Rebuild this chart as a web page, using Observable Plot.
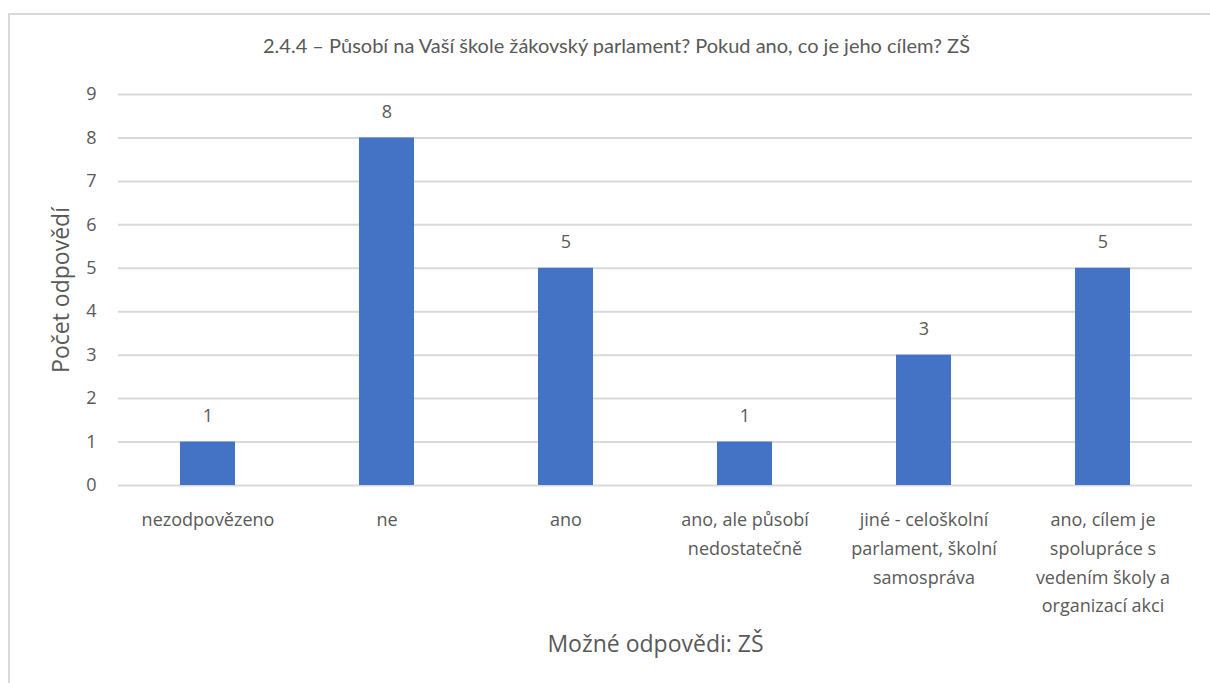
<!DOCTYPE html>
<html><head><meta charset="utf-8">
<script src="https://cdn.jsdelivr.net/npm/d3@7"></script>
<script src="https://cdn.jsdelivr.net/npm/@observablehq/plot@0.6"></script>
<style>
body{margin:0;background:#fff;}
#wrap{position:relative;width:1210px;height:683px;overflow:hidden;}
#frame{position:absolute;left:8px;top:13px;width:1300px;height:800px;border:2px solid #d9d9d9;box-sizing:border-box;}
#chart{position:absolute;left:0;top:0;}
</style></head><body>
<div id="wrap"><div id="frame"></div><div id="chart"></div></div>
<script>
const title = "2.4.4 – Působí na Vaší škole žákovský parlament? Pokud ano, co je jeho cílem? ZŠ";
const categories = ["nezodpovězeno", "ne", "ano", "ano, ale působí nedostatečně", "jiné - celoškolní parlament, školní samospráva", "ano, cílem je spolupráce s vedením školy a organizací akci"];
const values = [1, 8, 5, 1, 3, 5];
const tickLabels = ["nezodpovězeno", "ne", "ano", "ano, ale působí\nnedostatečně", "jiné - celoškolní\nparlament, školní\nsamospráva", "ano, cílem je\nspolupráce s\nvedením školy a\norganizací akci"];
const yTicks = [0, 1, 2, 3, 4, 5, 6, 7, 8, 9];
const xTitle = "Možné odpovědi: ZŠ";
const yTitle = "Počet odpovědí";

const data = categories.map((c, i) => ({cat: c, value: values[i]}));
const labelOf = new Map(categories.map((c, i) => [c, tickLabels[i]]));
const textColor = "#595959";
const font = "'Open Sans', 'Noto Sans', sans-serif";

const chart = Plot.plot({
  width: 1210,
  height: 683,
  marginTop: 94,
  marginBottom: 198,
  marginLeft: 118,
  marginRight: 18,
  style: {fontFamily: font, color: textColor, background: "transparent", overflow: "visible"},
  x: {domain: categories, paddingInner: 0.69, paddingOuter: 0.345, axis: null},
  y: {domain: [0, 9], axis: null},
  marks: [
    Plot.ruleY(yTicks, {stroke: "#d9d9d9", strokeWidth: 2}),
    Plot.barY(data, {x: "cat", y: "value", fill: "#4472C4"}),
    Plot.text(data, {x: "cat", y: "value", text: d => String(d.value), dy: -26, fontSize: 18, fill: textColor}),
    Plot.axisY(yTicks, {tickSize: 0, tickPadding: 22, fontSize: 18, fill: textColor, label: null, tickFormat: d => String(d)}),
    Plot.axisX({tickSize: 0, tickPadding: 20, fontSize: 18, fill: textColor, label: null, lineHeight: 1.6, tickFormat: d => labelOf.get(d)}),
    Plot.text([yTitle], {frameAnchor: "left", textAnchor: "middle", lineAnchor: "middle", dx: -57, rotate: -90, fontSize: 23, fill: textColor}),
    Plot.text([xTitle], {frameAnchor: "bottom", textAnchor: "middle", lineAnchor: "middle", dy: 159, fontSize: 23, fill: textColor}),
    Plot.text([title], {frameAnchor: "top", textAnchor: "middle", lineAnchor: "middle", dx: -39, dy: -48, fontSize: 20, fill: textColor, fontFamily: "Lato, 'Open Sans', sans-serif"})
  ]
});
document.getElementById("chart").appendChild(chart);
</script>
</body></html>
